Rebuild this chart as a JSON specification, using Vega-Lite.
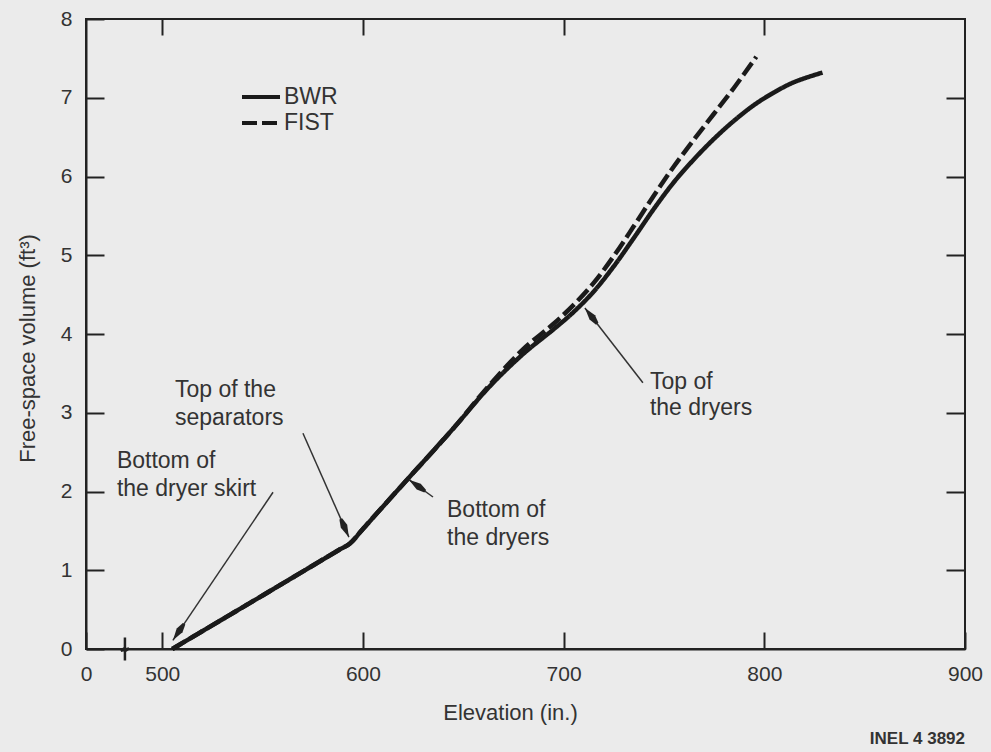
{
  "$schema": "https://vega.github.io/schema/vega-lite/v6.json",
  "width": 879,
  "height": 630,
  "autosize": {"type": "none"},
  "padding": {"left": 86, "top": 19, "right": 26, "bottom": 103},
  "background": "#ebebeb",
  "title": {"text": "INEL 4 3892", "orient": "bottom", "anchor": "end", "frame": "group", "font": "Liberation Sans", "fontSize": 17, "fontWeight": "bold", "color": "#333333", "offset": 8},
  "config": {
    "view": {"stroke": "#222222", "strokeWidth": 2},
    "font": "Liberation Sans",
    "axis": {"grid": false, "labelFont": "Liberation Sans", "labelFontSize": 21, "labelColor": "#333333", "titleFont": "Liberation Sans", "titleFontSize": 22, "titleFontWeight": "normal", "titleColor": "#333333", "domainColor": "#222222", "domainWidth": 2, "tickColor": "#222222", "tickWidth": 2, "labelFlush": false}
  },
  "datasets": {
    "curves": [
      {"series": "BWR", "elev": 505, "vol": 0},
      {"series": "BWR", "elev": 550, "vol": 0.68},
      {"series": "BWR", "elev": 588, "vol": 1.257},
      {"series": "BWR", "elev": 593.5, "vol": 1.34},
      {"series": "BWR", "elev": 600, "vol": 1.525},
      {"series": "BWR", "elev": 622, "vol": 2.15},
      {"series": "BWR", "elev": 645, "vol": 2.8},
      {"series": "BWR", "elev": 663, "vol": 3.33},
      {"series": "BWR", "elev": 680, "vol": 3.75},
      {"series": "BWR", "elev": 695, "vol": 4.06},
      {"series": "BWR", "elev": 705, "vol": 4.28},
      {"series": "BWR", "elev": 715, "vol": 4.54},
      {"series": "BWR", "elev": 725, "vol": 4.86},
      {"series": "BWR", "elev": 735, "vol": 5.22},
      {"series": "BWR", "elev": 745, "vol": 5.59},
      {"series": "BWR", "elev": 755, "vol": 5.93},
      {"series": "BWR", "elev": 765, "vol": 6.22},
      {"series": "BWR", "elev": 775, "vol": 6.48},
      {"series": "BWR", "elev": 785, "vol": 6.71},
      {"series": "BWR", "elev": 795, "vol": 6.91},
      {"series": "BWR", "elev": 805, "vol": 7.07},
      {"series": "BWR", "elev": 815, "vol": 7.2},
      {"series": "BWR", "elev": 829, "vol": 7.32},
      {"series": "FIST", "elev": 505, "vol": 0},
      {"series": "FIST", "elev": 550, "vol": 0.68},
      {"series": "FIST", "elev": 588, "vol": 1.257},
      {"series": "FIST", "elev": 593.5, "vol": 1.34},
      {"series": "FIST", "elev": 600, "vol": 1.525},
      {"series": "FIST", "elev": 622, "vol": 2.15},
      {"series": "FIST", "elev": 645, "vol": 2.8},
      {"series": "FIST", "elev": 663, "vol": 3.35},
      {"series": "FIST", "elev": 680, "vol": 3.81},
      {"series": "FIST", "elev": 695, "vol": 4.13},
      {"series": "FIST", "elev": 705, "vol": 4.37},
      {"series": "FIST", "elev": 715, "vol": 4.65},
      {"series": "FIST", "elev": 725, "vol": 4.99},
      {"series": "FIST", "elev": 735, "vol": 5.37},
      {"series": "FIST", "elev": 745, "vol": 5.76},
      {"series": "FIST", "elev": 755, "vol": 6.13},
      {"series": "FIST", "elev": 765, "vol": 6.47},
      {"series": "FIST", "elev": 775, "vol": 6.8},
      {"series": "FIST", "elev": 785, "vol": 7.13},
      {"series": "FIST", "elev": 796, "vol": 7.52}
    ],
    "arrows": [
      {"id": "a1", "x": 555.2, "y": 1.99, "x2": 505.3, "y2": 0.11},
      {"id": "a2", "x": 570.1, "y": 2.74, "x2": 593.0, "y2": 1.42},
      {"id": "a3", "x": 634.9, "y": 1.93, "x2": 622.9, "y2": 2.15},
      {"id": "a4", "x": 739.5, "y": 3.38, "x2": 710.6, "y2": 4.33}
    ],
    "notes": [
      {"x": 506.3, "y": 3.29, "text": "Top of the"},
      {"x": 506.3, "y": 2.93, "text": "separators"},
      {"x": 477.4, "y": 2.39, "text": "Bottom of"},
      {"x": 477.4, "y": 2.03, "text": "the dryer skirt"},
      {"x": 641.9, "y": 1.77, "text": "Bottom of"},
      {"x": 641.9, "y": 1.41, "text": "the dryers"},
      {"x": 743.0, "y": 3.39, "text": "Top of"},
      {"x": 743.0, "y": 3.06, "text": "the dryers"}
    ],
    "breaks": [
      {"x": 481.4, "y": 0}
    ]
  },
  "layer": [
    {
      "data": {"name": "curves"},
      "mark": {"type": "line", "interpolate": "catmull-rom", "strokeWidth": 4.5, "color": "#1a1a1a", "strokeCap": "butt", "strokeJoin": "round"},
      "encoding": {
        "x": {"field": "elev", "type": "quantitative", "scale": {"domain": [462, 900], "nice": false, "zero": false},
          "axis": {"orient": "bottom", "values": [462, 500, 600, 700, 800, 900], "labelExpr": "datum.value == 462 ? '0' : datum.label", "tickSize": -17, "labelPadding": 31, "title": "Elevation (in.)", "titleX": 424, "titleY": 63, "titleAlign": "center", "titleBaseline": "middle"}},
        "y": {"field": "vol", "type": "quantitative", "scale": {"domain": [0, 8], "nice": false, "zero": false},
          "axis": {"orient": "left", "values": [0, 1, 2, 3, 4, 5, 6, 7, 8], "tickSize": -18, "labelPadding": 32, "title": "Free-space volume (ft³)", "titleX": -59, "titleY": 329, "titleAngle": -90, "titleAlign": "center", "titleBaseline": "middle"}},
        "strokeDash": {"field": "series", "type": "nominal", "scale": {"domain": ["BWR", "FIST"], "range": [[1, 0], [15, 5]]},
          "legend": {"title": null, "orient": "none", "legendX": 154, "legendY": 66, "symbolType": "stroke", "symbolSize": 1444, "symbolStrokeWidth": 4, "symbolStrokeColor": "#1a1a1a", "clipHeight": 24, "rowPadding": 2, "labelOffset": 2, "labelFontSize": 23, "labelFont": "Liberation Sans", "labelColor": "#333333", "padding": 0, "symbolOffset": 0}}
      }
    },
    {
      "data": {"name": "arrows"},
      "mark": {"type": "rule", "strokeWidth": 1.5, "color": "#333333"},
      "encoding": {
        "x": {"field": "x", "type": "quantitative", "scale": {"domain": [462, 900], "nice": false, "zero": false}, "axis": null},
        "y": {"field": "y", "type": "quantitative", "scale": {"domain": [0, 8], "nice": false, "zero": false}, "axis": null},
        "x2": {"field": "x2"},
        "y2": {"field": "y2"}
      }
    },
    {
      "data": {"name": "arrows"},
      "transform": [{"filter": "datum.id == 'a1'"}],
      "mark": {"type": "point", "shape": "M0,0L0.35,1.2L0.15,2L-0.15,2L-0.35,1.2Z", "filled": true, "size": 400, "angle": 214, "color": "#222222", "opacity": 1, "strokeWidth": 0},
      "encoding": {
        "x": {"field": "x2", "type": "quantitative", "scale": {"domain": [462, 900], "nice": false, "zero": false}, "axis": null},
        "y": {"field": "y2", "type": "quantitative", "scale": {"domain": [0, 8], "nice": false, "zero": false}, "axis": null}
      }
    },
    {
      "data": {"name": "arrows"},
      "transform": [{"filter": "datum.id == 'a2'"}],
      "mark": {"type": "point", "shape": "M0,0L0.35,1.2L0.15,2L-0.15,2L-0.35,1.2Z", "filled": true, "size": 400, "angle": 156, "color": "#222222", "opacity": 1, "strokeWidth": 0},
      "encoding": {
        "x": {"field": "x2", "type": "quantitative", "scale": {"domain": [462, 900], "nice": false, "zero": false}, "axis": null},
        "y": {"field": "y2", "type": "quantitative", "scale": {"domain": [0, 8], "nice": false, "zero": false}, "axis": null}
      }
    },
    {
      "data": {"name": "arrows"},
      "transform": [{"filter": "datum.id == 'a3'"}],
      "mark": {"type": "point", "shape": "M0,0L0.35,1.2L0.15,2L-0.15,2L-0.35,1.2Z", "filled": true, "size": 400, "angle": 305, "color": "#222222", "opacity": 1, "strokeWidth": 0},
      "encoding": {
        "x": {"field": "x2", "type": "quantitative", "scale": {"domain": [462, 900], "nice": false, "zero": false}, "axis": null},
        "y": {"field": "y2", "type": "quantitative", "scale": {"domain": [0, 8], "nice": false, "zero": false}, "axis": null}
      }
    },
    {
      "data": {"name": "arrows"},
      "transform": [{"filter": "datum.id == 'a4'"}],
      "mark": {"type": "point", "shape": "M0,0L0.35,1.2L0.15,2L-0.15,2L-0.35,1.2Z", "filled": true, "size": 400, "angle": 322, "color": "#222222", "opacity": 1, "strokeWidth": 0},
      "encoding": {
        "x": {"field": "x2", "type": "quantitative", "scale": {"domain": [462, 900], "nice": false, "zero": false}, "axis": null},
        "y": {"field": "y2", "type": "quantitative", "scale": {"domain": [0, 8], "nice": false, "zero": false}, "axis": null}
      }
    },
    {
      "data": {"name": "notes"},
      "mark": {"type": "text", "align": "left", "baseline": "middle", "font": "Liberation Sans", "fontSize": 23, "color": "#333333"},
      "encoding": {
        "x": {"field": "x", "type": "quantitative", "scale": {"domain": [462, 900], "nice": false, "zero": false}, "axis": null},
        "y": {"field": "y", "type": "quantitative", "scale": {"domain": [0, 8], "nice": false, "zero": false}, "axis": null},
        "text": {"field": "text", "type": "nominal"}
      }
    },
    {
      "data": {"name": "breaks"},
      "mark": {"type": "point", "shape": "M0,-1L0,-0.1L-0.35,0.15L0.35,-0.05L0,0.2L0,1", "filled": false, "size": 529, "strokeWidth": 2.5, "color": "#222222", "opacity": 1},
      "encoding": {
        "x": {"field": "x", "type": "quantitative", "scale": {"domain": [462, 900], "nice": false, "zero": false},
          "axis": {"orient": "top", "values": [500, 600, 700, 800], "labels": false, "domain": false, "tickSize": -16, "title": null}},
        "y": {"field": "y", "type": "quantitative", "scale": {"domain": [0, 8], "nice": false, "zero": false},
          "axis": {"orient": "right", "values": [1, 2, 3, 4, 5, 6, 7], "labels": false, "domain": false, "tickSize": -19, "title": null}}
      }
    }
  ]
}
